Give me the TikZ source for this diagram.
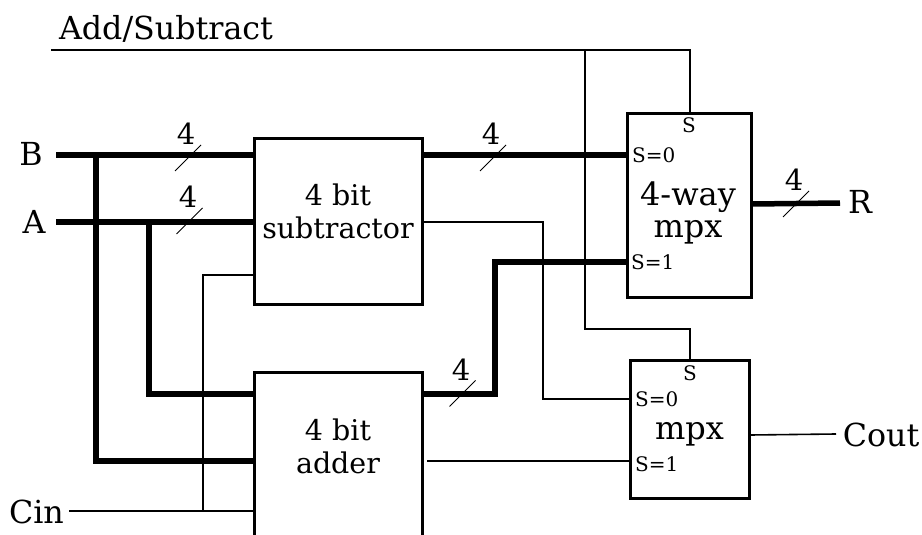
\documentclass[tikz,border=0pt]{standalone}
\usepackage{fontspec}
\setmainfont{DejaVu Serif}
\tikzset{
    blockbox/.style={draw, line width=3pt, rectangle, inner sep=0pt},
    busline/.style={line width=5.5pt},
    wireline/.style={line width=1.6pt},
    tickline/.style={line width=1pt},
    blocktext/.style={inner sep=0pt, align=center, font=\fontsize{28.5}{33}\selectfont},
    mpxtext/.style={inner sep=0pt, align=center, font=\fontsize{32}{32}\selectfont},
    pintext/.style={inner sep=0pt, anchor=base west, font=\fontsize{20}{24}\selectfont},
    sigtext/.style={inner sep=0pt, anchor=base, font=\fontsize{31.7}{36}\selectfont},
    widthtext/.style={inner sep=0pt, anchor=base, font=\fontsize{29}{30}\selectfont}
}
\begin{document}
\begin{tikzpicture}[x={(1pt,0pt)}, y={(0pt,-1pt)}]
    \clip (0,0) rectangle (922,535);

    % Blocks
    \node[blockbox, minimum width=168pt, minimum height=166pt] (subtractor) at (338,221) {};
    \node[blockbox, minimum width=168pt, minimum height=200pt, anchor=north] (adder) at (338,371) {};
    \node[blockbox, minimum width=124pt, minimum height=183pt] (mpxfour) at (689,205.5) {};
    \node[blockbox, minimum width=119pt, minimum height=138pt] (mpxtwo) at (689.5,429) {};

    \node[blocktext] (subtractortext) at (338,211) {4 bit\\subtractor};
    \node[blocktext] (addertext) at (338,446.5) {4 bit\\adder};
    \node[mpxtext] (mpxfourtext) at (688,213) {4-way\\mpx};
    \node[mpxtext] (mpxtwotext) at (689.5,434) {mpx};

    % Signal names
    \node[sigtext] (addsub) at (166,39.5) {Add/Subtract};
    \node[sigtext] (inb) at (31,165) {B};
    \node[sigtext] (ina) at (34,233) {A};
    \node[sigtext] (cin) at (36.5,523) {Cin};
    \node[sigtext] (outr) at (860,213) {R};
    \node[sigtext] (cout) at (881,446) {Cout};

    % Pin names
    \node[pintext] (fours) at (682,132) {S};
    \node[pintext] (fourzero) at (632,162) {S=0};
    \node[pintext] (fourone) at (631,269) {S=1};
    \node[pintext] (twos) at (683,380) {S};
    \node[pintext] (twozero) at (635,406) {S=0};
    \node[pintext] (twoone) at (635,471) {S=1};

    % Junctions and line ends
    \coordinate (bstart) at (56,155);
    \coordinate (bdrop) at (96,155);
    \coordinate (astart) at (56,222);
    \coordinate (adrop) at (149,222);
    \coordinate (cstart) at (69,511);
    \coordinate (cdrop) at (203,511);
    \coordinate (addstart) at (51,50);
    \coordinate (adddrop) at (585,50);
    \coordinate (addend) at (690,50);
    \coordinate (addturn) at (585,329);
    \coordinate (rend) at (840,203);
    \coordinate (coutend) at (836,434);
    \coordinate (subzero) at (543,222);
    \coordinate (addout) at (495,394);
    \coordinate (carryout) at (427,461);

    % Buses
    \draw[busline] (bstart) -- (subtractor.west |- bstart);
    \draw[busline] (astart) -- (subtractor.west |- astart);
    \draw[busline, line join=miter] (bdrop) -- (bdrop |- 0,461) -- (adder.west |- 0,461);
    \draw[busline, line join=miter] (adrop) -- (adrop |- addout) -- (adder.west |- addout);
    \draw[busline] (subtractor.east |- bstart) -- (mpxfour.west |- bstart);
    \draw[busline, line join=miter] (adder.east |- addout) -- (addout) -- (addout |- 0,262) -- (mpxfour.west |- 0,262);
    \draw[busline] (mpxfour.east |- 0,204) -- (rend);

    % Thin wires
    \draw[wireline] (cstart) -- (adder.west |- cstart);
    \draw[wireline] (cdrop) -- (cdrop |- 0,275) -- (subtractor.west |- 0,275);
    \draw[wireline] (subtractor.east |- subzero) -- (subzero) -- (subzero |- 0,399) -- (mpxtwo.west |- 0,399);
    \draw[wireline] (carryout) -- (mpxtwo.west |- carryout);
    \draw[wireline] (addstart) -- (addend) -- (mpxfour.north -| addend);
    \draw[wireline] (adddrop) -- (addturn) -- (addturn -| addend) -- (mpxtwo.north -| addend);
    \draw[wireline] (mpxtwo.east |- 0,435) -- (coutend);

    % Bus width marks
    \foreach \tx/\ty/\lx/\ly/\tname in {188/158/186/144/ticka, 189.5/221/188/207/tickb, 493/158/491/144/tickc, 796/204/794/190/tickd, 462.5/393.5/461/380/ticke} {
        \draw[tickline] (\tx-13,\ty+13) -- (\tx+13,\ty-13);
        \node[widthtext] (\tname) at (\lx,\ly) {4};
    }
\end{tikzpicture}
\end{document}
